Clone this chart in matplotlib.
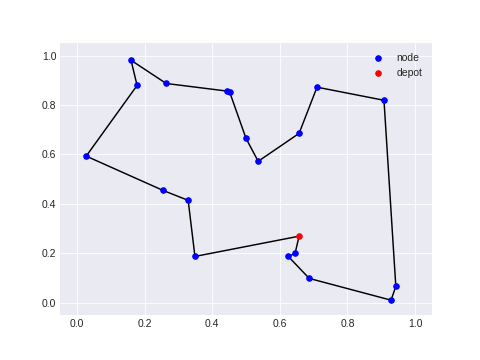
import matplotlib
matplotlib.use("Agg")
import matplotlib.pyplot as plt

# tour order, starting and ending at the depot
tour_x = [0.349, 0.329, 0.255, 0.0275, 0.178, 0.160, 0.264, 0.445, 0.452, 0.500,
          0.536, 0.657, 0.710, 0.908, 0.943, 0.929, 0.687, 0.625, 0.645]
tour_y = [0.187, 0.414, 0.454, 0.593, 0.879, 0.981, 0.887, 0.856, 0.851, 0.665,
          0.572, 0.685, 0.872, 0.819, 0.066, 0.010, 0.098, 0.187, 0.199]
depot_x = 0.657
depot_y = 0.269


def plot_tour():
    plt.style.use("seaborn-v0_8-darkgrid")
    fig = plt.figure(figsize=(6.4, 4.8), dpi=75)
    fig.subplots_adjust(left=0.125, right=0.9, top=0.88, bottom=0.125)

    path_x = [depot_x] + tour_x + [depot_x]
    path_y = [depot_y] + tour_y + [depot_y]
    plt.plot(path_x, path_y, color="black", linewidth=1.4, zorder=2)
    plt.scatter(tour_x, tour_y, color="blue", s=28, label="node", zorder=3)
    plt.scatter([depot_x], [depot_y], color="red", s=28, label="depot", zorder=4)

    plt.xlim(-0.05, 1.05)
    plt.ylim(-0.05, 1.05)
    plt.legend(loc="upper right", scatterpoints=1)
    plt.savefig("out.png", dpi=75)


if __name__ == "__main__":
    plot_tour()
